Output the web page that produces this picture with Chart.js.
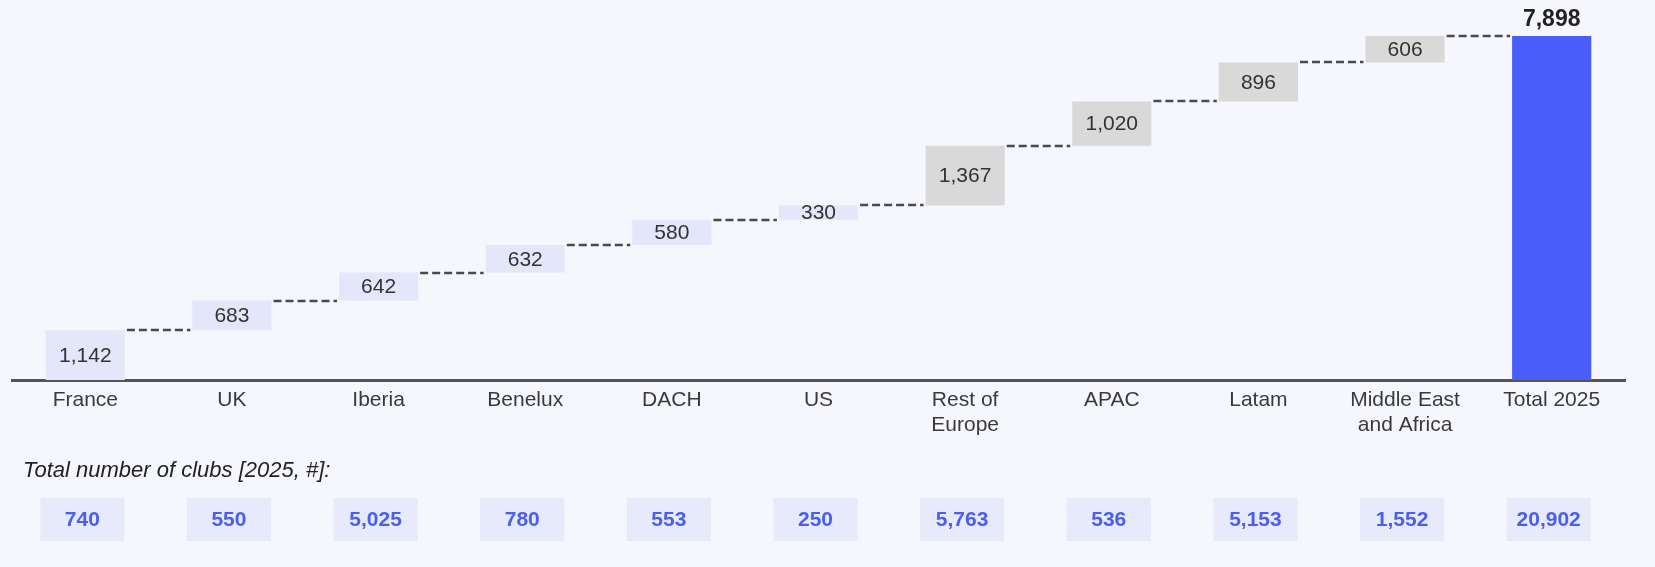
<!DOCTYPE html>
<html>
<head>
<meta charset="utf-8">
<script src="https://cdn.jsdelivr.net/npm/chart.js@4"></script>
<style>
  html, body { margin: 0; padding: 0; background: #f5f7fd; }
  #wrap { width: 1655px; height: 567px; }
</style>
</head>
<body>
<div id="wrap"><canvas id="clubsChart" width="1655" height="567"></canvas></div>
<script>
// regions and their increase in clubs
const regions = ['France', 'UK', 'Iberia', 'Benelux', 'DACH', 'US', ['Rest of', 'Europe'], 'APAC', 'Latam', ['Middle East', 'and Africa'], 'Total 2025'];
const increments = [1142, 683, 642, 632, 580, 330, 1367, 1020, 896, 606];
const total2025 = 7898;
// bottom row: total number of clubs [2025, #]
const totalClubs = [740, 550, 5025, 780, 553, 250, 5763, 536, 5153, 1552, 20902];

const fmt = n => n.toLocaleString('en-US');
const FONT = '"Liberation Sans", Arial, sans-serif';

// floating bars built from the increments
let running = 0;
const floating = increments.map(v => {
    const bar = [running, running + v];
    running += v;
    return bar;
});
floating.push([0, total2025]);

const barColors = regions.map((r, i) => {
    if (i === regions.length - 1) return '#4a5efc';   // total
    if (i >= 6) return '#d9d9da';                       // rest of world
    return '#e4e7f9';                                   // core markets
});

const waterfallExtras = {
    id: 'waterfallExtras',
    afterDatasetsDraw(chart) {
        const ctx = chart.ctx;
        const meta = chart.getDatasetMeta(0);
        const yScale = chart.scales.y;
        const xScale = chart.scales.x;

        // dashed connectors
        ctx.save();
        ctx.strokeStyle = '#4a4a4a';
        ctx.lineWidth = 2.5;
        ctx.setLineDash([8, 4]);
        for (let i = 0; i < meta.data.length - 1; i++) {
            const a = meta.data[i], b = meta.data[i + 1];
            const y = Math.round(yScale.getPixelForValue(floating[i][1]));
            ctx.beginPath();
            ctx.moveTo(a.x + a.width / 2 + 2, y);
            ctx.lineTo(b.x - b.width / 2 - 2, y);
            ctx.stroke();
        }
        ctx.restore();

        // value labels
        ctx.save();
        ctx.textAlign = 'center';
        ctx.textBaseline = 'middle';
        meta.data.forEach((bar, i) => {
            if (i < increments.length) {
                ctx.font = '21px ' + FONT;
                ctx.fillStyle = '#333333';
                const yMid = yScale.getPixelForValue((floating[i][0] + floating[i][1]) / 2);
                ctx.fillText(fmt(increments[i]), bar.x, yMid + 1);
            } else {
                ctx.font = 'bold 23px ' + FONT;
                ctx.fillStyle = '#222222';
                ctx.fillText(fmt(total2025), bar.x, bar.y - 16);
            }
        });
        ctx.restore();

        // bottom row: total number of clubs
        ctx.save();
        ctx.font = 'italic 22px ' + FONT;
        ctx.fillStyle = '#222222';
        ctx.textBaseline = 'middle';
        ctx.fillText('Total number of clubs [2025, #]:', 23, 471);
        ctx.textAlign = 'center';
        totalClubs.forEach((v, i) => {
            const cx = xScale.getPixelForValue(i) - 3;
            ctx.fillStyle = '#e7eafa';
            ctx.fillRect(cx - 42, 498, 84, 43);
            ctx.fillStyle = '#4b5ef2';
            ctx.font = 'bold 21px ' + FONT;
            ctx.fillText(fmt(v), cx, 520);
        });
        ctx.restore();
    }
};

new Chart(document.getElementById('clubsChart'), {
    type: 'bar',
    data: {
        labels: regions,
        datasets: [{
            data: floating,
            backgroundColor: barColors,
            borderWidth: 0,
            categoryPercentage: 1,
            barPercentage: 0.54
        }]
    },
    options: {
        responsive: false,
        animation: false,
        layout: { padding: { top: 36, left: 12, right: 30, bottom: 0 } },
        plugins: {
            legend: { display: false },
            tooltip: { enabled: false }
        },
        scales: {
            x: {
                grid: { display: false, drawTicks: false },
                border: { display: true, color: '#555555', width: 3 },
                ticks: {
                    color: '#3a3a3a',
                    padding: 8,
                    maxRotation: 0,
                    autoSkip: false,
                    font: { family: FONT, size: 21, lineHeight: 1.19 }
                },
                afterFit(scale) { scale.height = 187; }
            },
            y: {
                display: false,
                min: 0,
                max: total2025
            }
        }
    },
    plugins: [waterfallExtras]
});
</script>
</body>
</html>
